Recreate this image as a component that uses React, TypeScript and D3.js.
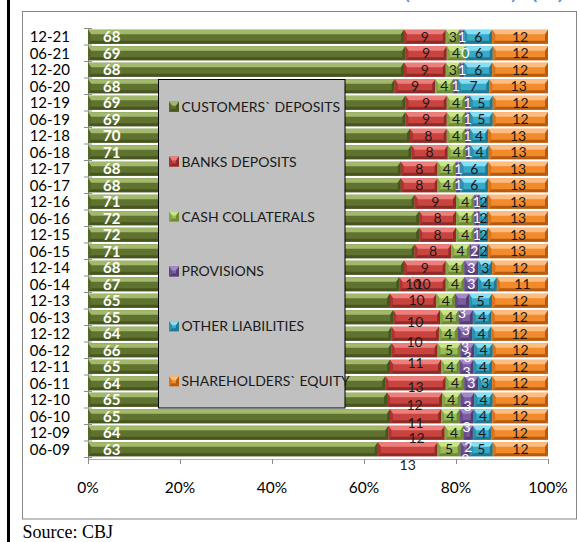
import React from "react";
import * as d3 from "d3";

// Half-year periods, newest first
const categories = [
  "12-21", "06-21", "12-20", "06-20", "12-19", "06-19", "12-18", "06-18",
  "12-17", "06-17", "12-16", "06-16", "12-15", "06-15", "12-14", "06-14",
  "12-13", "06-13", "12-12", "06-12", "12-11", "06-11", "12-10", "06-10",
  "12-09", "06-09",
];

// Share of total liabilities and equity (%)
const customersDeposits = [68, 69, 68, 68, 69, 69, 70, 71, 68, 68, 71, 72, 72, 71, 68, 67, 65, 65, 64, 66, 65, 64, 65, 65, 64, 63];
const banksDeposits = [9, 9, 9, 9, 9, 9, 8, 8, 8, 8, 9, 8, 8, 8, 9, 10, 10, 10, 10, 10, 11, 13, 12, 11, 12, 13];
const cashCollaterals = [3, 4, 3, 4, 4, 4, 4, 4, 4, 4, 4, 4, 4, 4, 4, 4, 4, 4, 4, 5, 4, 4, 4, 4, 4, 5];
const provisions = [1, 0, 1, 1, 1, 1, 1, 1, 1, 1, 1, 1, 1, 2, 3, 3, 3, 3, 3, 3, 3, 3, 3, 3, 2, 2];
const otherLiabilities = [6, 6, 6, 7, 5, 5, 4, 4, 6, 6, 2, 2, 2, 2, 3, 4, 5, 4, 4, 4, 4, 3, 4, 4, 4, 5];
const shareholdersEquity = [12, 12, 12, 13, 12, 12, 13, 13, 13, 13, 13, 13, 13, 13, 12, 11, 12, 12, 12, 12, 12, 12, 12, 12, 12, 12];

const seriesNames = [
  "CUSTOMERS` DEPOSITS",
  "BANKS DEPOSITS",
  "CASH COLLATERALS",
  "PROVISIONS",
  "OTHER LIABILITIES",
  "SHAREHOLDERS` EQUITY",
];
const seriesValues = [customersDeposits, banksDeposits, cashCollaterals, provisions, otherLiabilities, shareholdersEquity];

const xTickValues = [0, 0.2, 0.4, 0.6, 0.8, 1];

// Bevelled fills for each series
const palette = [
  { light: "#a2b96b", base: "#5f7230", dark: "#47561f", side: "#566828", text: "#ffffff", bold: true },
  { light: "#ec7f7b", base: "#c9433f", dark: "#8e2a28", side: "#a83532", text: "#1a1a1a", bold: false },
  { light: "#c9e588", base: "#9bbb59", dark: "#6d8a35", side: "#84a446", text: "#1a1a1a", bold: false },
  { light: "#a58ac8", base: "#7b5ca0", dark: "#533e70", side: "#654b87", text: "#ffffff", bold: false },
  { light: "#88def2", base: "#37a9c9", dark: "#23788f", side: "#2d8fab", text: "#1a1a1a", bold: false },
  { light: "#fdbd80", base: "#f28b2c", dark: "#b85b0e", side: "#d9741c", text: "#1a1a1a", bold: false },
];

// Vertical nudges (px) for data labels that sit off their segment centre
const labelNudge: Record<string, number[]> = {
  "1": [0, 0, 0, 0, 0, 0, 0, 0, 0, 0, 0, 0, 0, 0, 0, 0, -16.5, -17, -12, -8.5, -4, 3.5, 5, 7, 5, 16],
  "3": [0, 0, 0, 0, 0, 0, 0, 0, 0, 0, 0, 0, 0, 0, 0, 0, 12, 13, 13, 7, 5, 0, 6, 11, 14, 10],
};

const W = 577;
const H = 542;
const FONT = "Lato, 'Open Sans', sans-serif";

function Bevel({ x0, x1, y0, y1, c }: { x0: number; x1: number; y0: number; y1: number; c: typeof palette[number] }) {
  const w = x1 - x0;
  if (w <= 0) return null;
  const h = y1 - y0;
  const b = Math.min(4.5, w / 2, h / 2.5);
  const bb = Math.min(3, w / 2);
  return (
    <g>
      <rect x={x0} y={y0} width={w} height={h} fill={c.base} />
      <polygon points={`${x0},${y0} ${x1},${y0} ${x1 - bb},${y0 + b} ${x0 + bb},${y0 + b}`} fill={c.light} />
      <polygon points={`${x0},${y1} ${x1},${y1} ${x1 - bb},${y1 - 3} ${x0 + bb},${y1 - 3}`} fill={c.dark} />
      <polygon points={`${x0},${y0} ${x0 + bb},${y0 + b} ${x0 + bb},${y1 - 3} ${x0},${y1}`} fill={c.side} />
      <polygon points={`${x1},${y0} ${x1 - bb},${y0 + b} ${x1 - bb},${y1 - 3} ${x1},${y1}`} fill={c.dark} />
    </g>
  );
}

export default function App() {
  const x = d3.scaleLinear().domain([0, 1]).range([88, 548]);
  const y = d3.scaleBand<string>().domain(categories).range([28.5, 457.5]).paddingInner(0.15).paddingOuter(0.075);
  const bh = y.bandwidth();

  const rows = categories.map((cat, i) => {
    const vals = seriesValues.map((s) => s[i]);
    const total = d3.sum(vals);
    const ends = d3.cumsum(vals);
    return vals.map((v, k) => ({
      cat,
      i,
      k,
      v,
      x0: x((ends[k] - v) / total),
      x1: x(ends[k] / total),
    }));
  });

  const segs = rows.flat();
  const axisBottom = 459;

  return (
    <svg
      width={W}
      height={H}
      viewBox={`0 0 ${W} ${H}`}
      style={{ position: "absolute", left: 0, top: 0, background: "#ffffff" }}
    >
      {/* page rule and caption fragment above the frame */}
      <rect x={7} y={0} width={3} height={H} fill="#000000" />
      <text x={404} y={0} fontFamily={FONT} fontSize={15} fill="#5b8fd0" textLength={113} lengthAdjust="spacingAndGlyphs">(JD Million)</text>
      <text x={531} y={0} fontFamily={FONT} fontSize={15} fill="#5b8fd0" textLength={33} lengthAdjust="spacingAndGlyphs">(%)</text>

      {/* chart frame */}
      <rect x={22.5} y={11.5} width={554} height={507.5} fill="#ffffff" stroke="#868686" strokeWidth={1} />

      {/* category axis */}
      <line x1={88.5} x2={88.5} y1={28.5} y2={axisBottom} stroke="#8c8c8c" />
      {categories.map((c) => (
        <line key={"t" + c} x1={84} x2={92} y1={y(c)! - (y.step() - bh) / 2} y2={y(c)! - (y.step() - bh) / 2} stroke="#8c8c8c" />
      ))}
      <line x1={84} x2={92} y1={457.5} y2={457.5} stroke="#8c8c8c" />

      {/* value axis */}
      <line x1={88} x2={548} y1={axisBottom + 0.5} y2={axisBottom + 0.5} stroke="#b0b0b0" />
      {xTickValues.map((t) => (
        <line key={"xt" + t} x1={Math.round(x(t)) + 0.5} x2={Math.round(x(t)) + 0.5} y1={axisBottom} y2={axisBottom + 5} stroke="#8c8c8c" />
      ))}

      {/* stacked bars */}
      {segs.map((s) => (
        <Bevel key={`b${s.i}-${s.k}`} x0={s.x0} x1={s.x1} y0={y(s.cat)!} y1={y(s.cat)! + bh} c={palette[s.k]} />
      ))}

      {/* data labels */}
      {segs.map((s) => {
        const c = palette[s.k];
        const cy = y(s.cat)! + bh / 2 + (labelNudge[String(s.k)]?.[s.i] ?? 0);
        if (s.k === 0) {
          return (
            <text key={`l${s.i}-${s.k}`} x={s.x0 + 15} y={cy + 5.5} fontFamily={FONT} fontSize={15} fontWeight={700} fill={c.text}>
              {s.v}
            </text>
          );
        }
        return (
          <text key={`l${s.i}-${s.k}`} x={(s.x0 + s.x1) / 2} y={cy + 5} textAnchor="middle" fontFamily={FONT} fontSize={14} fill={c.text}>
            {s.v}
          </text>
        );
      })}

      {/* category labels */}
      {categories.map((c) => (
        <text key={"c" + c} x={70} y={y(c)! + bh / 2 + 5.5} textAnchor="end" fontFamily={FONT} fontSize={15} fill="#000000">
          {c}
        </text>
      ))}

      {/* value tick labels */}
      {xTickValues.map((t) => (
        <text key={"xl" + t} x={x(t)} y={492.5} textAnchor="middle" fontFamily={FONT} fontSize={15.5} fill="#000000">
          {d3.format(".0%")(t)}
        </text>
      ))}

      {/* legend */}
      <rect x={158.5} y={79.5} width={186.5} height={328.5} fill="#c0c0c0" stroke="#000000" strokeWidth={1} />
      {seriesNames.map((name, k) => {
        const cy = 106.7 + k * 54.9;
        return (
          <g key={"lg" + k}>
            <Bevel x0={169} x1={179} y0={cy - 5} y1={cy + 5} c={palette[k]} />
            <text x={181.5} y={cy + 5} fontFamily={FONT} fontSize={14} fill="#1a1a1a">
              {name}
            </text>
          </g>
        );
      })}

      {/* source note */}
      <text x={22.5} y={538} fontFamily="'Liberation Serif', 'Times New Roman', serif" fontSize={18} fill="#000000">
        Source: CBJ
      </text>
    </svg>
  );
}
